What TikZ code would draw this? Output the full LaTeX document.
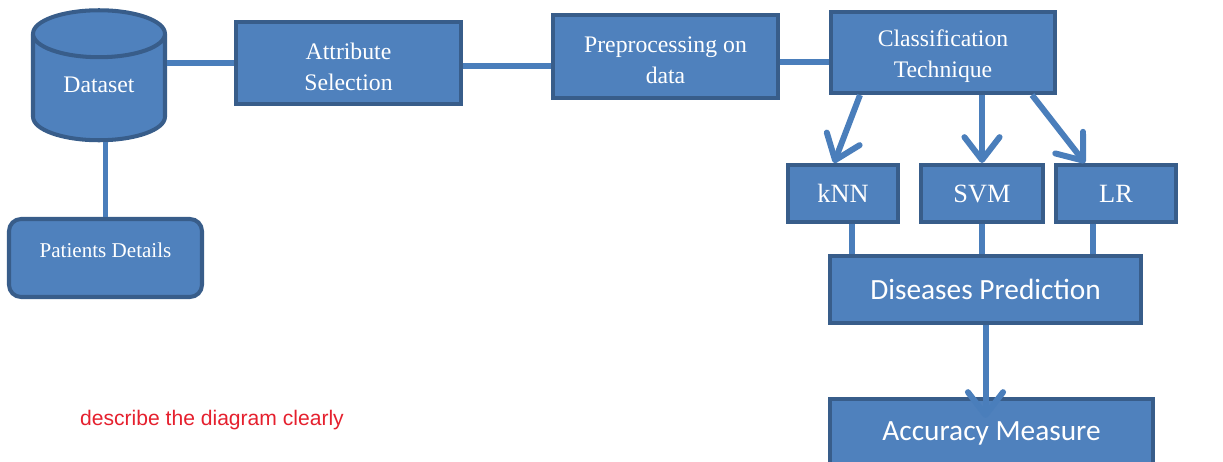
\documentclass[tikz,border=0pt]{standalone}
\usepackage{fontspec}
\setmainfont{Liberation Serif}
\newfontfamily\calibri{Carlito}
\newfontfamily\arial{Liberation Sans}
\usetikzlibrary{arrows.meta, positioning, shapes.geometric}

\definecolor{boxfill}{HTML}{4F81BD}
\definecolor{boxline}{HTML}{385D8A}
\definecolor{linkblue}{HTML}{4A7EBB}
\definecolor{notered}{HTML}{E5202E}

\tikzset{
  blockbox/.style={draw=boxline, fill=boxfill, line width=2.3pt, text=white,
    align=center, inner sep=0pt, font=\fontsize{13.5}{17.6}\selectfont},
  algbox/.style={blockbox, minimum height=1.14cm, font=\fontsize{15}{18}\selectfont},
  wordbox/.style={blockbox, font=\calibri\fontsize{16.7}{20}\selectfont},
  dbshape/.style={cylinder, shape border rotate=90, aspect=0.66, draw=boxline,
    fill=boxfill, line width=2.3pt, text=white, inner sep=0pt,
    minimum width=2.64cm, minimum height=2.6cm, font=\fontsize{13.5}{17.6}\selectfont},
  link/.style={draw=linkblue, line width=3.4pt},
  arrowlink/.style={link, -{Straight Barb[length=13pt, width=20pt, round]}},
}

\begin{document}
\begin{tikzpicture}[x=0.02cm, y=-0.02cm]
\useasboundingbox (0,0) rectangle (1223,462);

\node[dbshape] (dataset) at (99,88) {\raisebox{3.4pt}{Dataset}};
\node[blockbox, rounded corners=0.24cm, minimum width=3.86cm, minimum height=1.56cm,
  font=\fontsize{12}{15}\selectfont] (patients) at (105.5,258) {Patients Details\\[-6.5pt]\mbox{}};
\node[blockbox, minimum width=4.5cm, minimum height=1.64cm] (attr) at (348.5,63) {\rule{0pt}{13.5pt}Attribute\\Selection};
\node[blockbox, minimum width=4.5cm, minimum height=1.66cm] (prep) at (665.5,56.5) {\rule{0pt}{13.5pt}Preprocessing on\\data};
\node[blockbox, minimum width=4.48cm, minimum height=1.62cm] (class) at (943,52.5) {\rule{0pt}{13.5pt}Classification\\Technique};

\node[algbox, minimum width=2.2cm] (knn) at (843,193.5) {kNN};
\node[algbox, minimum width=2.44cm] (svm) at (982,193.5) {SVM};
\node[algbox, minimum width=2.4cm] (lr) at (1116,193.5) {LR};

\node[wordbox, minimum width=6.22cm, minimum height=1.34cm] (dis) at (985.5,289.5) {Diseases Prediction};
\node[wordbox, minimum width=6.46cm, minimum height=1.36cm] (acc) at (991.5,433) {Accuracy Measure};
\coordinate (acctip) at ([yshift=-0.42cm]acc.north);

\node[text=notered, font=\arial\fontsize{12}{14}\selectfont] (note) at (212,420) {describe the diagram clearly};

% connectors
\draw
  (attr.west -| dataset.east) edge[link] (attr.west)
  (patients.north |- dataset.south) edge[link] (patients.north)
  ([yshift=-0.06cm]attr.east) edge[link] ([yshift=-0.06cm]attr.east -| prep.west)
  ([yshift=-0.11cm]prep.east) edge[link] ([yshift=-0.11cm]prep.east -| class.west)
  ([xshift=0.62cm]class.south west) edge[arrowlink] ([xshift=0.96cm]knn.north west)
  (svm.north |- class.south) edge[arrowlink] (svm.north)
  ([xshift=-0.5cm]class.south east) edge[arrowlink] ([xshift=-0.62cm]lr.north)
  ([xshift=0.18cm]knn.south) edge[link] ([xshift=0.18cm]knn.south |- dis.north)
  (svm.south) edge[link] (svm.south |- dis.north)
  ([xshift=-0.46cm]lr.south) edge[link] ([xshift=-0.46cm]lr.south |- dis.north)
  (dis.south) edge[arrowlink] (dis.south |- acctip);
\end{tikzpicture}
\end{document}
